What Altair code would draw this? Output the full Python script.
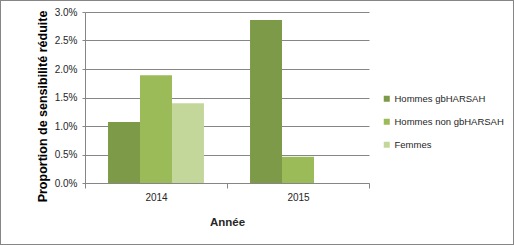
import altair as alt
import pandas as pd

years = ["2014", "2015"]
series = ["Hommes gbHARSAH", "Hommes non gbHARSAH", "Femmes"]
hommes_gb = [0.0107, 0.0286]
hommes_non = [0.0189, 0.0046]
femmes = [0.0140, 0.0]
colors = ["#7D9A48", "#9BBB59", "#C4D79B"]

rows = []
for i, y in enumerate(years):
    for s, vals in zip(series, [hommes_gb, hommes_non, femmes]):
        rows.append({"Année": y, "Série": s, "val": vals[i]})
df = pd.DataFrame(rows)

W, H = 284, 171
font = "Liberation Sans"
grey = "#868686"

bars = alt.Chart(df).mark_bar().encode(
    x=alt.X("Année:N", sort=years,
            scale=alt.Scale(paddingInner=0, paddingOuter=0),
            axis=alt.Axis(title="Année", labelAngle=0, tickBand="extent",
                          domainColor=grey, tickColor=grey, tickSize=5,
                          labelFont=font, labelFontSize=10, labelColor="#262626",
                          labelPadding=4,
                          titleFont=font, titleFontSize=11.5, titleFontWeight="bold",
                          titleColor="#262626", titlePadding=14)),
    xOffset=alt.XOffset("Série:N", sort=series,
                        scale=alt.Scale(paddingInner=0, paddingOuter=0.72)),
    y=alt.Y("val:Q",
            scale=alt.Scale(domain=[0, 0.03], nice=False),
            axis=alt.Axis(title="Proportion de sensibilité réduite", format=".1%",
                          values=[0, 0.005, 0.01, 0.015, 0.02, 0.025, 0.03],
                          gridColor=grey, domainColor=grey, tickColor=grey,
                          tickSize=3, labelFont=font, labelFontSize=10,
                          labelColor="#262626", labelPadding=5,
                          titleFont=font, titleFontSize=12.5, titleFontWeight="bold",
                          titleColor="#000000", titleX=-43, titleY=94,
                          titleAngle=270, titleAlign="center", titleBaseline="middle")),
    color=alt.Color("Série:N", sort=series,
                    scale=alt.Scale(domain=series, range=colors),
                    legend=alt.Legend(title=None, orient="none", legendX=297, legendY=82,
                                      symbolType="square", symbolSize=36,
                                      symbolStrokeWidth=0, rowPadding=12,
                                      labelFont=font, labelFontSize=9.5,
                                      labelColor="#262626", labelOffset=3)),
)

border = alt.Chart(df).mark_rect(fill=None, stroke=grey, strokeWidth=1, clip=False).encode(
    x=alt.value(-84.5), x2=alt.value(428.5), y=alt.value(-11.5), y2=alt.value(232.5)
)

chart = alt.layer(border, bars).properties(
    width=W, height=H,
    autosize=alt.AutoSizeParams(type="none"),
    padding={"left": 85, "top": 12, "right": 145, "bottom": 62},
    background="white",
).configure_view(stroke=None)

chart.save("out.html", embed_options={"renderer": "svg", "actions": False})
